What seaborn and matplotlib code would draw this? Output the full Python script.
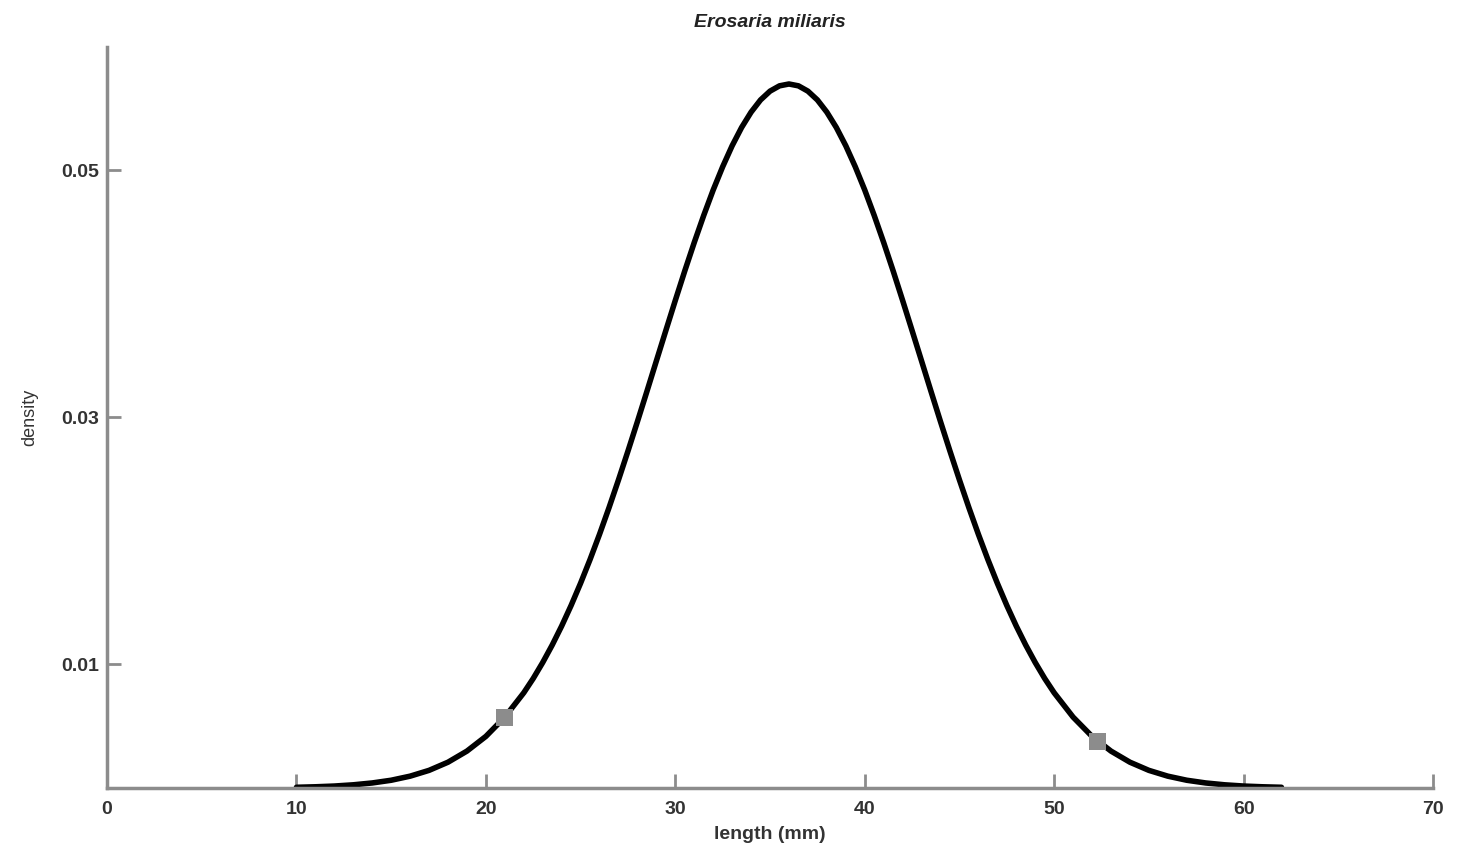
import pandas as pd
import numpy as np
import matplotlib.pyplot as plt
import seaborn as sns

# Werte (Mitte enger abgetastet)
length_mm = [10, 11, 12, 13, 14, 15, 16, 17, 18, 19, 20, 21, 22, 22.5,
             23, 23.5, 24, 24.5, 25, 25.5, 26, 26.5, 27, 27.5, 28, 28.5,
             29, 29.5, 30, 30.5, 31, 31.5, 32, 32.5, 33, 33.5, 34, 34.5,
             35, 35.5, 36, 36.5, 37, 37.5, 38, 38.5, 39, 39.5, 40, 40.5,
             41, 41.5, 42, 42.5, 43, 43.5, 44, 44.5, 45, 45.5, 46, 46.5,
             47, 47.5, 48, 48.5, 49, 49.5, 50, 51, 52, 53, 54, 55, 56, 57,
             58, 59, 60, 61, 62]
density = [0.00006, 0.00010, 0.00016, 0.00026, 0.00041, 0.00063, 0.00096,
           0.00143, 0.00209, 0.00299, 0.00418, 0.00574, 0.00771, 0.00887,
           0.01016, 0.01157, 0.01311, 0.01478, 0.01658, 0.01850, 0.02054,
           0.02269, 0.02494, 0.02727, 0.02966, 0.03210, 0.03457, 0.03703,
           0.03947, 0.04186, 0.04416, 0.04635, 0.04841, 0.05029, 0.05199,
           0.05347, 0.05471, 0.05570, 0.05641, 0.05684, 0.05699, 0.05684,
           0.05641, 0.05570, 0.05471, 0.05347, 0.05199, 0.05029, 0.04841,
           0.04635, 0.04416, 0.04186, 0.03947, 0.03703, 0.03457, 0.03210,
           0.02966, 0.02727, 0.02494, 0.02269, 0.02054, 0.01850, 0.01658,
           0.01478, 0.01311, 0.01157, 0.01016, 0.00887, 0.00771, 0.00574,
           0.00418, 0.00299, 0.00209, 0.00143, 0.00096, 0.00063, 0.00041,
           0.00026, 0.00016, 0.00010, 0.00006]
mark_x = [21.0, 52.3]
mark_y = [0.00574, 0.00379]
x_ticks = [0, 10, 20, 30, 40, 50, 60, 70]
y_ticks = [0.01, 0.03, 0.05]
y_labels = ['0.01', '0.03', '0.05']

sns.set_style("white")
plt.rcParams['font.family'] = ['Liberation Sans', 'DejaVu Sans']

df = pd.DataFrame({'length': length_mm, 'density': density})
pts = pd.DataFrame({'length': mark_x, 'density': mark_y})

fig = plt.figure(figsize=(14.66, 8.51), dpi=100)
ax = fig.add_axes([0.073, 0.074, 0.9045, 0.871])

sns.lineplot(data=df, x='length', y='density', color='black', linewidth=4, ax=ax)
sns.scatterplot(data=pts, x='length', y='density', color='#8c8c8c', marker='s',
                s=150, edgecolor='none', zorder=3, ax=ax)

ax.set_xlim(0, 70)
ax.set_ylim(0, 0.06)
ax.set_xticks(x_ticks)
ax.set_yticks(y_ticks)
ax.set_yticklabels(y_labels)
# seaborn "white" schaltet die Ticks ab -> wieder einschalten
ax.tick_params(bottom=True, left=True, direction='in', length=10, width=2,
               color='#8c8c8c', labelsize=14)
ax.tick_params(axis='x', pad=9)
ax.tick_params(axis='y', pad=6)
for lbl in ax.get_xticklabels() + ax.get_yticklabels():
    lbl.set_fontweight('bold')
    lbl.set_color('#333333')

for side in ['top', 'right']:
    ax.spines[side].set_visible(False)
for side in ['left', 'bottom']:
    ax.spines[side].set_color('#8c8c8c')
    ax.spines[side].set_linewidth(2.5)

ax.set_xlabel('length (mm)', fontsize=14, fontweight='bold', color='#333333', labelpad=6)
ax.set_ylabel('density', fontsize=13, color='#333333', labelpad=16)
ax.set_title('Erosaria miliaris', fontsize=14, fontweight='bold', style='italic',
             color='#222222', pad=14)

fig.savefig('out.png', dpi=100)
